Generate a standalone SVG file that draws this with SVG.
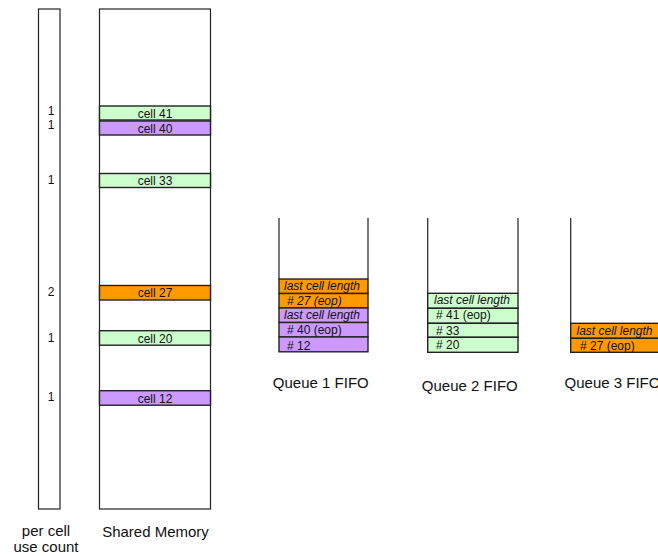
<svg xmlns="http://www.w3.org/2000/svg" width="658" height="556" viewBox="0 0 658 556">
<style>
text{font-family:"Liberation Sans",Arial,sans-serif;fill:#111}
.frame{fill:#fff;stroke:#222;stroke-width:1.2}
.cell{stroke:#222;stroke-width:1.4}
.g{fill:#ccffcc}.p{fill:#cc99ff}.o{fill:#ff9900}
.wall{stroke:#333;stroke-width:1.3;fill:none}
.lbl{font-size:12px;text-anchor:middle}
.cnt{font-size:12px;text-anchor:middle}
.q{font-size:12px}
.it{font-style:italic}
.cap{font-size:15px;text-anchor:middle}
</style>
<rect width="658" height="556" fill="#fff"/>
<g id="use-count">
<rect class="frame" x="38.5" y="9" width="21.5" height="500"/>
<text class="cnt" x="51" y="115">1</text>
<text class="cnt" x="51" y="129">1</text>
<text class="cnt" x="51" y="183.5">1</text>
<text class="cnt" x="51" y="296">2</text>
<text class="cnt" x="51" y="341.5">1</text>
<text class="cnt" x="51" y="400.5">1</text>
<text class="cap" x="46" y="536">per cell</text>
<text class="cap" x="46" y="551.5">use count</text>
</g>
<g id="shared-memory">
<rect class="frame" x="99.5" y="9" width="111" height="500"/>
<rect class="cell g" x="99.5" y="106" width="111" height="14"/>
<text class="lbl" x="155" y="117.5">cell 41</text>
<rect class="cell p" x="99.5" y="121" width="111" height="14"/>
<text class="lbl" x="155" y="132.5">cell 40</text>
<rect class="cell g" x="99.5" y="173.5" width="111" height="14"/>
<text class="lbl" x="155" y="185">cell 33</text>
<rect class="cell o" x="99.5" y="285.5" width="111" height="14.5"/>
<text class="lbl" x="155" y="297.3">cell 27</text>
<rect class="cell g" x="99.5" y="330.7" width="111" height="14.5"/>
<text class="lbl" x="155" y="342.5">cell 20</text>
<rect class="cell p" x="99.5" y="390.7" width="111" height="14.5"/>
<text class="lbl" x="155" y="402.5">cell 12</text>
<text class="cap" x="155.5" y="536.5">Shared Memory</text>
</g>
<g id="queue1">
<path class="wall" d="M279 218V279M368 218V279"/>
<rect class="cell o" x="279" y="279" width="89" height="14.5"/>
<text class="q it" x="284" y="289.5">last cell length</text>
<rect class="cell o" x="279" y="293.5" width="89" height="14.5"/>
<text class="q it" x="287" y="305">#&#160;27 (eop)</text>
<rect class="cell p" x="279" y="308" width="89" height="14.5"/>
<text class="q it" x="284" y="319.3">last cell length</text>
<rect class="cell p" x="279" y="322.5" width="89" height="14.5"/>
<text class="q" x="287" y="334">#&#160;40 (eop)</text>
<rect class="cell p" x="279" y="337" width="89" height="14.8"/>
<text class="q" x="287" y="349.5">#&#160;12</text>
<text class="cap" x="320.8" y="388">Queue 1 FIFO</text>
</g>
<g id="queue2">
<path class="wall" d="M427.7 218V293.3M518 218V293.3"/>
<rect class="cell g" x="427.7" y="293.3" width="90.3" height="15"/>
<text class="q it" x="434" y="304.3">last cell length</text>
<rect class="cell g" x="427.7" y="308.3" width="90.3" height="15"/>
<text class="q" x="436" y="319.3">#&#160;41 (eop)</text>
<rect class="cell g" x="427.7" y="323.3" width="90.3" height="14"/>
<text class="q" x="436" y="335">#&#160;33</text>
<rect class="cell g" x="427.7" y="337.3" width="90.3" height="15"/>
<text class="q" x="436" y="349.3">#&#160;20</text>
<text class="cap" x="469.8" y="391">Queue 2 FIFO</text>
</g>
<g id="queue3">
<path class="wall" d="M570.7 218V323.3"/>
<rect class="cell o" x="570.7" y="323.3" width="92" height="15"/>
<text class="q it" x="576.5" y="334.5">last cell length</text>
<rect class="cell o" x="570.7" y="338.3" width="92" height="14"/>
<text class="q" x="580" y="349.5">#&#160;27 (eop)</text>
<text class="cap" x="612.5" y="388">Queue 3 FIFO</text>
</g>
<g id="connectors"/>
</svg>
